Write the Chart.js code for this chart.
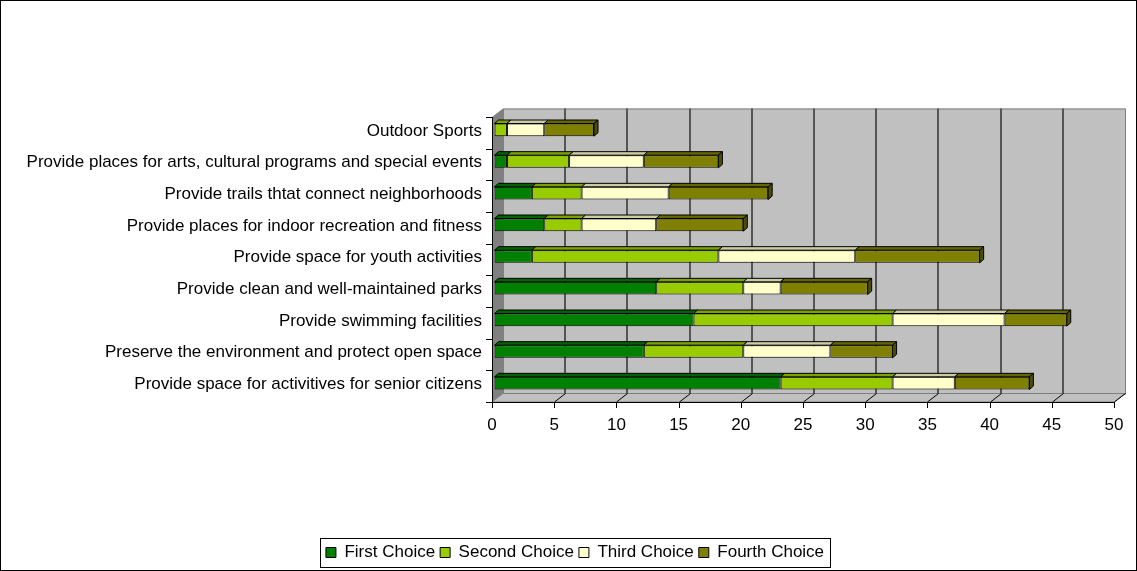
<!DOCTYPE html>
<html>
<head>
<meta charset="utf-8">
<script src="https://cdn.jsdelivr.net/npm/chart.js@4.4.1/dist/chart.umd.min.js"></script>
<style>
  html, body { margin: 0; padding: 0; background: #fff; }
  #wrap { position: relative; width: 1137px; height: 571px; }
</style>
</head>
<body>
<div id="wrap"><canvas id="choiceChart" width="1137" height="571"></canvas></div>
<script>
(function () {
  'use strict';

  // Categories, top row first
  var categories = [
    'Outdoor Sports',
    'Provide places for arts, cultural programs and special events',
    'Provide trails thtat connect neighborhoods',
    'Provide places for indoor recreation and fitness',
    'Provide space for youth activities',
    'Provide clean and well-maintained parks',
    'Provide swimming facilities',
    'Preserve the environment and protect open space',
    'Provide space for activitives for senior citizens'
  ];

  var firstChoice  = [0, 1, 3, 4, 3, 13, 16, 12, 23];
  var secondChoice = [1, 5, 4, 3, 15, 7, 16, 8, 9];
  var thirdChoice  = [3, 6, 7, 6, 11, 3, 9, 7, 5];
  var fourthChoice = [4, 6, 8, 7, 10, 7, 5, 5, 6];

  var seriesNames = ['First Choice', 'Second Choice', 'Third Choice', 'Fourth Choice'];
  var xMin = 0, xMax = 50, xStep = 5;

  // Series colours: front, top face, side face
  var COLORS = [
    { front: '#008000', top: '#006400', side: '#004B00' },
    { front: '#99CC00', top: '#7AA300', side: '#5C7A00' },
    { front: '#FFFFCC', top: '#CCCCA3', side: '#99997A' },
    { front: '#808000', top: '#666600', side: '#4D4D00' }
  ];

  // 3D look
  var WALL_DX = 11, WALL_DY = 8.5;   // depth of the back wall
  var BAR_SHIFT_X = 2.5, BAR_SHIFT_Y = -3; // bars sit a little behind the front plane
  var BAR_DX = 4, BAR_DY = 3.5;     // bar depth
  var LEGEND_SHIFT = 18;            // legend is centred on the whole chart, not the plot

  Chart.defaults.font.family = "'Liberation Sans', Arial, sans-serif";
  Chart.defaults.font.size = 17;
  Chart.defaults.color = '#000';

  var frame3d = {
    id: 'frame3d',
    afterLayout: function (chart) {
      var lg = chart.legend;
      if (!lg) return;
      lg.left += LEGEND_SHIFT;
      lg.right += LEGEND_SHIFT;
    },
    beforeDraw: function (chart) {
      var ctx = chart.ctx, a = chart.chartArea, xs = chart.scales.x;
      var L = a.left, R = a.right, T = a.top, B = a.bottom;
      ctx.save();
      ctx.lineWidth = 1;

      // back wall
      ctx.fillStyle = '#C0C0C0';
      ctx.fillRect(L + WALL_DX, T - WALL_DY, R - L, B - T);
      ctx.strokeStyle = '#808080';
      ctx.strokeRect(L + WALL_DX + 0.5, T - WALL_DY + 0.5, R - L, B - T);

      // left side wall
      ctx.fillStyle = '#808080';
      ctx.beginPath();
      ctx.moveTo(L, T);
      ctx.lineTo(L + WALL_DX, T - WALL_DY);
      ctx.lineTo(L + WALL_DX, B - WALL_DY);
      ctx.lineTo(L, B);
      ctx.closePath();
      ctx.fill();

      // floor
      ctx.fillStyle = '#C0C0C0';
      ctx.beginPath();
      ctx.moveTo(L, B);
      ctx.lineTo(L + WALL_DX, B - WALL_DY);
      ctx.lineTo(R + WALL_DX, B - WALL_DY);
      ctx.lineTo(R, B);
      ctx.closePath();
      ctx.fill();
      ctx.strokeStyle = '#808080';
      ctx.stroke();

      // gridlines on back wall and floor
      for (var v = xMin + xStep; v <= xMax; v += xStep) {
        var px = Math.round(xs.getPixelForValue(v));
        if (v < xMax) {
          ctx.strokeStyle = '#555';
          ctx.lineWidth = 2;
          ctx.beginPath();
          ctx.moveTo(px + WALL_DX, T - WALL_DY);
          ctx.lineTo(px + WALL_DX, B - WALL_DY);
          ctx.stroke();
        }
        ctx.strokeStyle = '#000';
        ctx.lineWidth = 1;
        ctx.beginPath();
        ctx.moveTo(px + 0.5, B);
        ctx.lineTo(px + WALL_DX + 0.5, B - WALL_DY);
        ctx.stroke();
      }

      // axes
      ctx.strokeStyle = '#000';
      ctx.lineWidth = 1;
      ctx.beginPath();
      ctx.moveTo(L + 0.5, T);
      ctx.lineTo(L + 0.5, B + 0.5);
      ctx.lineTo(R, B + 0.5);
      ctx.stroke();
      // x ticks
      for (var t = xMin; t <= xMax; t += xStep) {
        var tx = Math.round(xs.getPixelForValue(t)) + 0.5;
        ctx.beginPath();
        ctx.moveTo(tx, B);
        ctx.lineTo(tx, B + 6);
        ctx.stroke();
      }
      // y ticks between categories
      var step = (B - T) / categories.length;
      for (var i = 0; i <= categories.length; i++) {
        var ty = Math.round(T + i * step) + 0.5;
        ctx.beginPath();
        ctx.moveTo(L - 6, ty);
        ctx.lineTo(L, ty);
        ctx.stroke();
      }
      ctx.restore();
    },
    beforeDatasetsDraw: function (chart) {
      chart.ctx.save();
      chart.ctx.translate(BAR_SHIFT_X, BAR_SHIFT_Y);
    },
    afterDatasetsDraw: function (chart) {
      var ctx = chart.ctx;
      ctx.lineWidth = 1;
      ctx.strokeStyle = '#000';
      chart.data.datasets.forEach(function (ds, di) {
        var meta = chart.getDatasetMeta(di);
        meta.data.forEach(function (bar, idx) {
          if (!ds.data[idx]) return;
          var x0 = bar.base, x1 = bar.x, top = bar.y - bar.height / 2, bot = bar.y + bar.height / 2;
          // top face
          ctx.fillStyle = COLORS[di].top;
          ctx.beginPath();
          ctx.moveTo(x0, top);
          ctx.lineTo(x0 + BAR_DX, top - BAR_DY);
          ctx.lineTo(x1 + BAR_DX, top - BAR_DY);
          ctx.lineTo(x1, top);
          ctx.closePath();
          ctx.fill();
          ctx.stroke();
          // side face on the end of the stack
          if (di === chart.data.datasets.length - 1) {
            ctx.fillStyle = COLORS[di].side;
            ctx.beginPath();
            ctx.moveTo(x1, top);
            ctx.lineTo(x1 + BAR_DX, top - BAR_DY);
            ctx.lineTo(x1 + BAR_DX, bot - BAR_DY);
            ctx.lineTo(x1, bot);
            ctx.closePath();
            ctx.fill();
            ctx.stroke();
          }
        });
      });
      ctx.restore();
    },
    afterDraw: function (chart) {
      var ctx = chart.ctx;
      ctx.save();
      ctx.strokeStyle = '#000';
      ctx.lineWidth = 1;
      // outer border
      ctx.strokeRect(0.5, 0.5, chart.width - 1, chart.height - 1);
      // legend border
      var boxes = chart.legend.legendHitBoxes;
      if (boxes && boxes.length) {
        var first = boxes[0], last = boxes[boxes.length - 1];
        var lx = Math.round(first.left) - 6, rx = Math.round(last.left + last.width) + 6;
        var ly = Math.round(first.top) - 6, by = Math.round(first.top + first.height) + 6;
        ctx.strokeRect(lx + 0.5, ly + 0.5, rx - lx, by - ly);
      }
      ctx.restore();
    }
  };

  function makeDataset(label, values, i) {
    return {
      label: label,
      data: values,
      backgroundColor: COLORS[i].front,
      borderColor: '#000',
      borderWidth: 1,
      borderSkipped: false,
      barPercentage: 0.4,
      categoryPercentage: 1
    };
  }

  new Chart(document.getElementById('choiceChart').getContext('2d'), {
    type: 'bar',
    data: {
      labels: categories,
      datasets: [
        makeDataset(seriesNames[0], firstChoice, 0),
        makeDataset(seriesNames[1], secondChoice, 1),
        makeDataset(seriesNames[2], thirdChoice, 2),
        makeDataset(seriesNames[3], fourthChoice, 3)
      ]
    },
    options: {
      indexAxis: 'y',
      responsive: false,
      animation: false,
      layout: { padding: { top: 117, right: 23, bottom: 0, left: 0 } },
      scales: {
        x: {
          stacked: true,
          min: xMin,
          max: xMax,
          ticks: { stepSize: xStep, padding: 13, font: { size: 17 }, maxRotation: 0 },
          grid: { display: false, drawTicks: false },
          border: { display: false },
          afterFit: function (scale) { scale.height = 137; }
        },
        y: {
          stacked: true,
          ticks: { padding: 10, labelOffset: -2, autoSkip: false },
          grid: { display: false, drawTicks: false },
          border: { display: false },
          afterFit: function (scale) { scale.width = 492; }
        }
      },
      plugins: {
        legend: {
          position: 'bottom',
          labels: {
            boxWidth: 10,
            boxHeight: 10,
            padding: 5,
            color: '#000',
            font: { size: 17 },
            generateLabels: function (chart) {
              return chart.data.datasets.map(function (ds, i) {
                return {
                  text: ds.label,
                  fillStyle: COLORS[i].front,
                  strokeStyle: '#000',
                  lineWidth: 1,
                  datasetIndex: i
                };
              });
            }
          }
        },
        tooltip: { enabled: false }
      }
    },
    plugins: [frame3d]
  });
})();
</script>
</body>
</html>
